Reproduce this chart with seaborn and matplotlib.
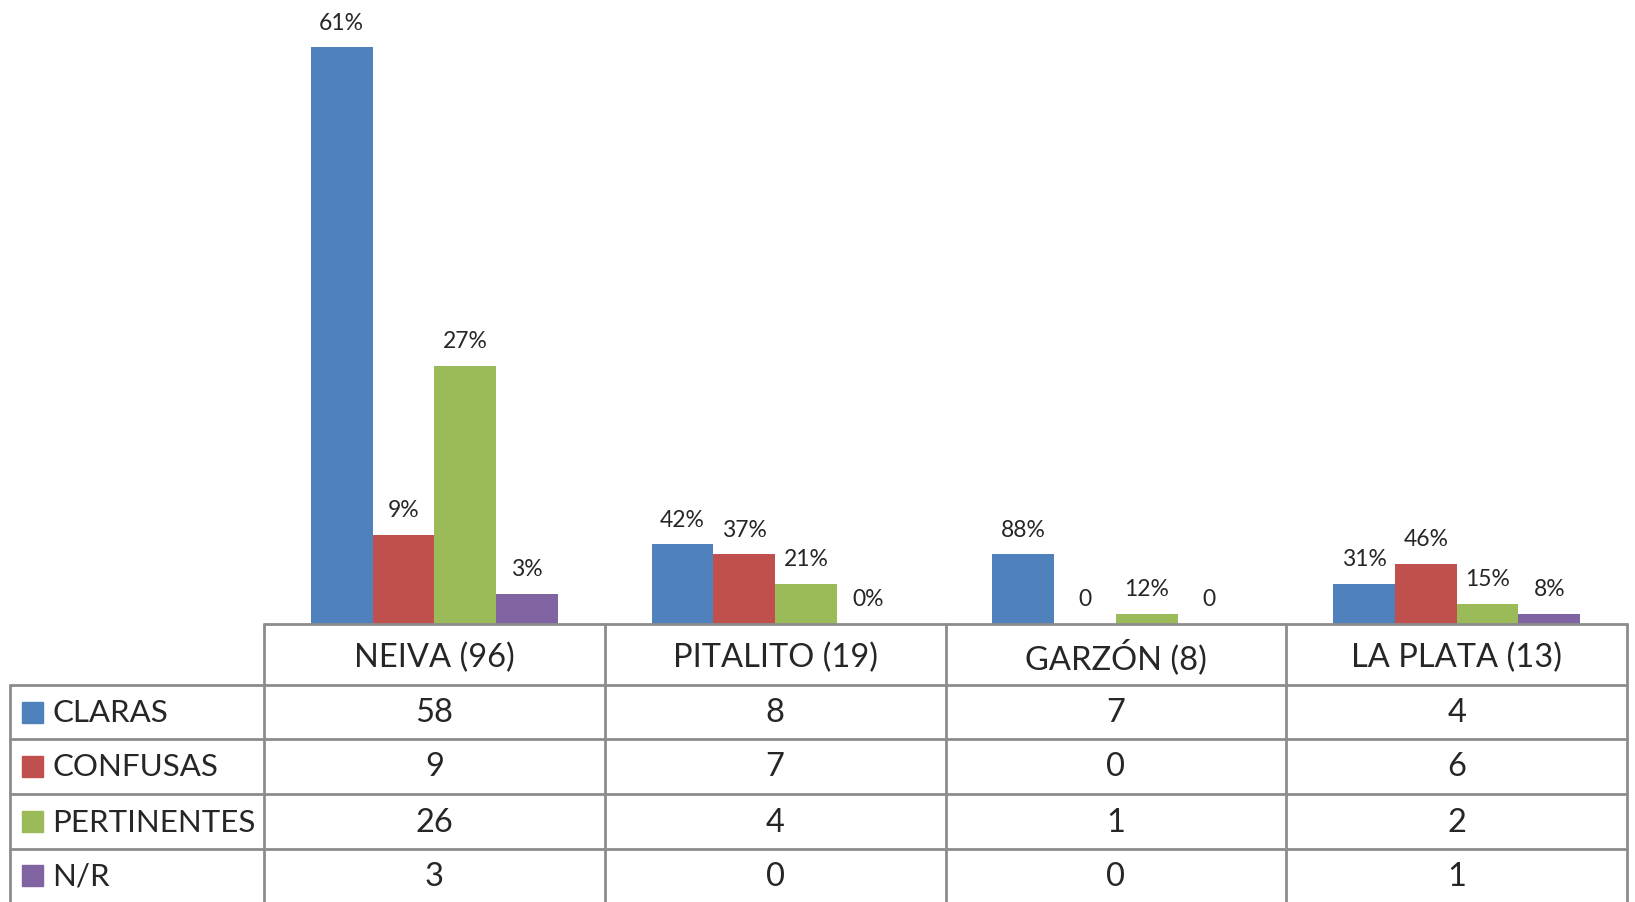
import pandas as pd
import seaborn as sns
import matplotlib.pyplot as plt
from matplotlib.lines import Line2D
from matplotlib.patches import Rectangle

# data
cities = ['NEIVA (96)', 'PITALITO (19)', 'GARZÓN (8)', 'LA PLATA (13)']
categories = ['CLARAS', 'CONFUSAS', 'PERTINENTES', 'N/R']
claras = [58, 8, 7, 4]
confusas = [9, 7, 0, 6]
pertinentes = [26, 4, 1, 2]
nr = [3, 0, 0, 1]
# labels shown over each bar (as printed on the chart)
lbl_claras = ['61%', '42%', '88%', '31%']
lbl_confusas = ['9%', '37%', '0', '46%']
lbl_pertinentes = ['27%', '21%', '12%', '15%']
lbl_nr = ['3%', '0%', '0', '8%']

colors = ['#4F81BD', '#C0504D', '#9BBB59', '#8064A2']

series = [claras, confusas, pertinentes, nr]
labels = [lbl_claras, lbl_confusas, lbl_pertinentes, lbl_nr]
df = pd.DataFrame({
    'city': [c for _ in categories for c in cities],
    'cat': [k for k in categories for _ in cities],
    'n': [v for s in series for v in s],
})

sns.set_style('white')
plt.rcParams['font.family'] = ['Lato', 'DejaVu Sans']

W, H = 1635, 902
fig = plt.figure(figsize=(W / 100, H / 100), dpi=100)

# table geometry (pixels from top-left)
base_y = 624
x_left, x_right = 264, 1627
leg_x = 10
rows = [624, 685, 739, 794, 849, 902]

ax = fig.add_axes([x_left / W, 1 - base_y / H, (x_right - x_left) / W, base_y / H])
sns.barplot(data=df, x='city', y='n', hue='cat', palette=colors, width=0.725,
            saturation=1, linewidth=0, legend=False, ax=ax)
ax.set_ylim(0, base_y / 9.94)
ax.set_xlim(-0.5, len(cities) - 0.5)
ax.axis('off')

for cont, labs in zip(ax.containers, labels):
    ax.bar_label(cont, labels=labs, padding=10, fontsize=16.5)

gray = '#8c8c8c'


def hline(y, x0, x1):
    fig.add_artist(Line2D([x0 / W, x1 / W], [1 - y / H, 1 - y / H], color=gray, lw=2))


def vline(x, y0, y1):
    fig.add_artist(Line2D([x / W, x / W], [1 - y0 / H, 1 - y1 / H], color=gray, lw=2))


hline(rows[0], x_left, x_right)
for y in rows[1:5]:
    hline(y, leg_x, x_right)
col_w = (x_right - x_left) / len(cities)
for i in range(len(cities) + 1):
    vline(x_left + i * col_w, rows[0], H)
vline(leg_x, rows[1], H)

# header
for i, c in enumerate(cities):
    fig.text((x_left + (i + 0.5) * col_w) / W, 1 - ((rows[0] + rows[1]) / 2 + 3) / H, c,
             ha='center', va='center', fontsize=23.5)

# rows
for r, (cat, s, col) in enumerate(zip(categories, series, colors)):
    yc = (rows[r + 1] + rows[r + 2]) / 2
    fig.add_artist(Rectangle((22 / W, 1 - (yc + 10.5) / H), 21 / W, 21 / H,
                             color=col, transform=fig.transFigure))
    fig.text(52 / W, 1 - (yc + 1) / H, cat, ha='left', va='center', fontsize=22.5)
    for i, v in enumerate(s):
        fig.text((x_left + (i + 0.5) * col_w) / W, 1 - (yc + 1) / H, str(v),
                 ha='center', va='center', fontsize=23.5)

fig.savefig('out.png', dpi=100)
